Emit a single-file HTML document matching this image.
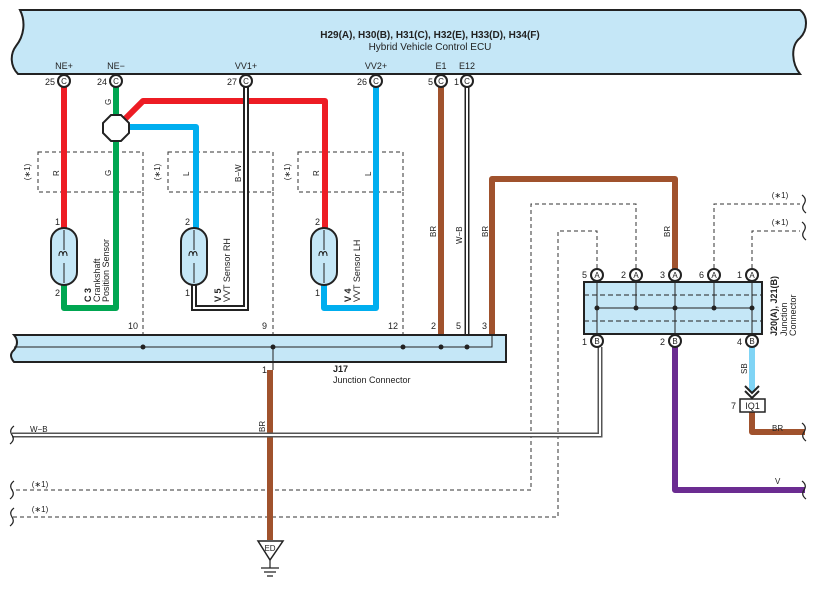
<!DOCTYPE html>
<html><head><style>body{margin:0;background:#fff}svg{display:block}text{font-family:"Liberation Sans",sans-serif;fill:#222}</style></head><body>
<svg width="824" height="595" viewBox="0 0 824 595" xmlns="http://www.w3.org/2000/svg">
<!-- ECU -->
<path d="M20,10 H800 C808,16 808,30 800,38 C790,46 792,64 800,74 H18 C10,66 10,54 16,46 C24,36 26,22 20,10 Z" fill="#c5e7f7" stroke="#222" stroke-width="2"/>
<text x="430" y="38" font-size="10" font-weight="bold" text-anchor="middle">H29(A), H30(B), H31(C), H32(E), H33(D), H34(F)</text>
<text x="430" y="50" font-size="10" text-anchor="middle">Hybrid Vehicle Control ECU</text>
<g font-size="9" text-anchor="middle">
<text x="64" y="69">NE+</text><text x="116" y="69">NE−</text><text x="246" y="69">VV1+</text><text x="376" y="69">VV2+</text><text x="441" y="69">E1</text><text x="467" y="69">E12</text>
</g>
<g font-size="9" text-anchor="end">
<text x="55" y="85">25</text><text x="107" y="85">24</text><text x="237" y="85">27</text><text x="367" y="85">26</text><text x="433" y="85">5</text><text x="459" y="85">1</text>
</g>
<!-- dashed boxes -->
<g fill="none" stroke="#333" stroke-dasharray="4,3" stroke-width="1">
<rect x="38" y="152" width="105" height="40"/><rect x="168" y="152" width="105" height="40"/><rect x="298" y="152" width="105" height="40"/>
<path d="M143,192 V347 M273,192 V347 M403,192 V347"/>
<path d="M597,275 V231 H558 V517 H12"/>
<path d="M636,275 V204 H531 V490 H12"/>
<path d="M714,275 V204 H800"/>
<path d="M752,275 V231 H800"/>
</g>
<g font-size="8" fill="#555">
<text x="780" y="198" text-anchor="middle">(∗1)</text><text x="780" y="225" text-anchor="middle">(∗1)</text>
<text x="40" y="487" text-anchor="middle">(∗1)</text><text x="40" y="512" text-anchor="middle">(∗1)</text>
<text transform="translate(30,172) rotate(-90)" text-anchor="middle">(∗1)</text>
<text transform="translate(160,172) rotate(-90)" text-anchor="middle">(∗1)</text>
<text transform="translate(290,172) rotate(-90)" text-anchor="middle">(∗1)</text>
</g>
<!-- wires -->
<g fill="none" stroke-width="6" stroke-linejoin="round">
<path d="M64,87 V228" stroke="#ed1c24"/>
<path d="M64,285 V308 H116 V87" stroke="#00a651"/>
<path d="M116,128 L143,101 H325 V230" stroke="#ed1c24"/>
<path d="M116,127 H196 V230" stroke="#00aeef"/>
<path d="M376,87 V308 H324 V285" stroke="#00aeef"/>
<path d="M441,87 V347" stroke="#a0522d"/>
<path d="M492,347 V179 H675 V275" stroke="#a0522d"/>
<path d="M270,370 V540" stroke="#a0522d"/>
<path d="M675,347 V490 H805" stroke="#6b2c91"/>
<path d="M752,347 V392" stroke="#80d4f5"/>
<path d="M752,412 V432 H805" stroke="#a0522d"/>
</g>
<path d="M194,285 V308 H246 V87" fill="none" stroke="#222" stroke-width="6"/>
<path d="M194,285 V308 H246 V87" fill="none" stroke="#fff" stroke-width="2"/>
<path d="M467,87 V347" fill="none" stroke="#222" stroke-width="5"/><path d="M467,87 V347" fill="none" stroke="#fff" stroke-width="2"/>
<path d="M12,435 H600 V347" fill="none" stroke="#555" stroke-width="5"/><path d="M12,435 H600 V347" fill="none" stroke="#fff" stroke-width="2"/>
<polygon points="111,115 121,115 129,123 129,133 121,141 111,141 103,133 103,123" fill="#fff" stroke="#222" stroke-width="2"/>
<g stroke="#222" stroke-width="2" fill="#c5e7f7">
<rect x="51" y="228" width="26" height="57" rx="13"/><rect x="181" y="228" width="26" height="57" rx="13"/><rect x="311" y="228" width="26" height="57" rx="13"/>
</g>
<g fill="none" stroke="#222" stroke-width="1">
<path d="M64,230 V250 M64,263 V283 M59,256 c0,-6 4,-6 4,0 c0,-6 4,-6 4,0"/>
<path d="M194,230 V250 M194,263 V283 M189,256 c0,-6 4,-6 4,0 c0,-6 4,-6 4,0"/>
<path d="M324,230 V250 M324,263 V283 M319,256 c0,-6 4,-6 4,0 c0,-6 4,-6 4,0"/>
</g>
<g font-size="9"><text x="55" y="225">1</text><text x="55" y="296">2</text><text x="185" y="225">2</text><text x="185" y="296">1</text><text x="315" y="225">2</text><text x="315" y="296">1</text></g>
<g font-size="9">
<text transform="translate(91,302) rotate(-90)" font-weight="bold">C 3</text>
<text transform="translate(100,302) rotate(-90)">Crankshaft</text><text transform="translate(109,302) rotate(-90)">Position Sensor</text>
<text transform="translate(221,302) rotate(-90)" font-weight="bold">V 5</text><text transform="translate(230,302) rotate(-90)">VVT Sensor RH</text>
<text transform="translate(351,302) rotate(-90)" font-weight="bold">V 4</text><text transform="translate(360,302) rotate(-90)">VVT Sensor LH</text>
</g>
<g font-size="8">
<text transform="translate(111,105) rotate(-90)">G</text><text transform="translate(59,176) rotate(-90)">R</text><text transform="translate(111,176) rotate(-90)">G</text>
<text transform="translate(189,176) rotate(-90)">L</text><text transform="translate(241,182) rotate(-90)">B−W</text>
<text transform="translate(319,176) rotate(-90)">R</text><text transform="translate(371,176) rotate(-90)">L</text>
<text transform="translate(436,237) rotate(-90)">BR</text><text transform="translate(462,244) rotate(-90)">W−B</text><text transform="translate(488,237) rotate(-90)">BR</text>
<text transform="translate(670,237) rotate(-90)">BR</text><text transform="translate(265,432) rotate(-90)">BR</text>
<text transform="translate(747,374) rotate(-90)">SB</text>
<text x="30" y="432">W−B</text><text x="772" y="431">BR</text><text x="775" y="484">V</text>
</g>
<path d="M14,335 H506 V362 H14 Q8,355 14,350 Q20,342 14,335 Z" fill="#c5e7f7" stroke="#222" stroke-width="2"/>
<path d="M14,347 H492 V335" fill="none" stroke="#222" stroke-width="1"/>
<g fill="#222"><circle cx="143" cy="347" r="2.5"/><circle cx="273" cy="347" r="2.5"/><circle cx="403" cy="347" r="2.5"/><circle cx="441" cy="347" r="2.5"/><circle cx="467" cy="347" r="2.5"/></g>
<path d="M273,347 V370" stroke="#222"/>
<g font-size="9"><text x="128" y="329">10</text><text x="262" y="329">9</text><text x="388" y="329">12</text><text x="431" y="329">2</text><text x="456" y="329">5</text><text x="482" y="329">3</text><text x="262" y="373">1</text></g>
<text x="333" y="372" font-size="9" font-weight="bold">J17</text><text x="333" y="383" font-size="9">Junction Connector</text>
<polygon points="258,541 283,541 270,560" fill="#fff" stroke="#222" stroke-width="1.5"/>
<text x="270" y="551" font-size="8" text-anchor="middle">ED</text>
<path d="M270,560 V568 M261,568 H279 M264,572 H276 M267,576 H273" stroke="#222" stroke-width="1.2"/>
<rect x="584" y="282" width="178" height="52" fill="#c5e7f7" stroke="#222" stroke-width="2"/>
<path d="M584,295 H762 M584,321 H762" stroke="#222" stroke-dasharray="5,3"/>
<path d="M597,308 H752 M597,282 V334 M636,282 V308 M675,282 V334 M714,282 V308 M752,282 V334" stroke="#222"/>
<g fill="#222"><circle cx="597" cy="308" r="2.5"/><circle cx="636" cy="308" r="2.5"/><circle cx="675" cy="308" r="2.5"/><circle cx="714" cy="308" r="2.5"/><circle cx="752" cy="308" r="2.5"/></g>
<text transform="translate(777,336) rotate(-90)" font-size="9" font-weight="bold">J20(A), J21(B)</text>
<g font-size="9"><text transform="translate(787,336) rotate(-90)">Junction</text><text transform="translate(796,336) rotate(-90)">Connector</text></g>
<g stroke="#222" stroke-width="2" fill="#fff">
<circle cx="64" cy="81" r="6"/><circle cx="116" cy="81" r="6"/><circle cx="246" cy="81" r="6"/><circle cx="376" cy="81" r="6"/><circle cx="441" cy="81" r="6"/><circle cx="467" cy="81" r="6"/>
<circle cx="597" cy="275" r="6"/><circle cx="636" cy="275" r="6"/><circle cx="675" cy="275" r="6"/><circle cx="714" cy="275" r="6"/><circle cx="752" cy="275" r="6"/>
<circle cx="597" cy="341" r="6"/><circle cx="675" cy="341" r="6"/><circle cx="752" cy="341" r="6"/>
</g>
<g font-size="8" text-anchor="middle">
<text x="64" y="84">C</text><text x="116" y="84">C</text><text x="246" y="84">C</text><text x="376" y="84">C</text><text x="441" y="84">C</text><text x="467" y="84">C</text>
<text x="597" y="278">A</text><text x="636" y="278">A</text><text x="675" y="278">A</text><text x="714" y="278">A</text><text x="752" y="278">A</text>
<text x="597" y="344">B</text><text x="675" y="344">B</text><text x="752" y="344">B</text>
</g>
<g font-size="9"><text x="582" y="278">5</text><text x="621" y="278">2</text><text x="660" y="278">3</text><text x="699" y="278">6</text><text x="737" y="278">1</text>
<text x="582" y="345">1</text><text x="660" y="345">2</text><text x="737" y="345">4</text></g>
<path d="M745,386 L752,393 L759,386 M745,391 L752,398 L759,391" fill="none" stroke="#222" stroke-width="2"/>
<rect x="740" y="399" width="25" height="13" fill="#fff" stroke="#222" stroke-width="1.5"/>
<text x="752.5" y="409" font-size="9" text-anchor="middle">IQ1</text><text x="731" y="409" font-size="9">7</text>
<g fill="none" stroke="#222" stroke-width="1.2">
<path d="M14,426 c-4,3 -4,6 -2,9 c2,3 2,6 -2,9"/><path d="M14,481 c-4,3 -4,6 -2,9 c2,3 2,6 -2,9"/><path d="M14,508 c-4,3 -4,6 -2,9 c2,3 2,6 -2,9"/>
<path d="M802,195 c4,3 4,6 2,9 c-2,3 -2,6 2,9"/><path d="M802,222 c4,3 4,6 2,9 c-2,3 -2,6 2,9"/>
<path d="M802,423 c4,3 4,6 2,9 c-2,3 -2,6 2,9"/><path d="M802,481 c4,3 4,6 2,9 c-2,3 -2,6 2,9"/>
</g>
</svg>
</body></html>
